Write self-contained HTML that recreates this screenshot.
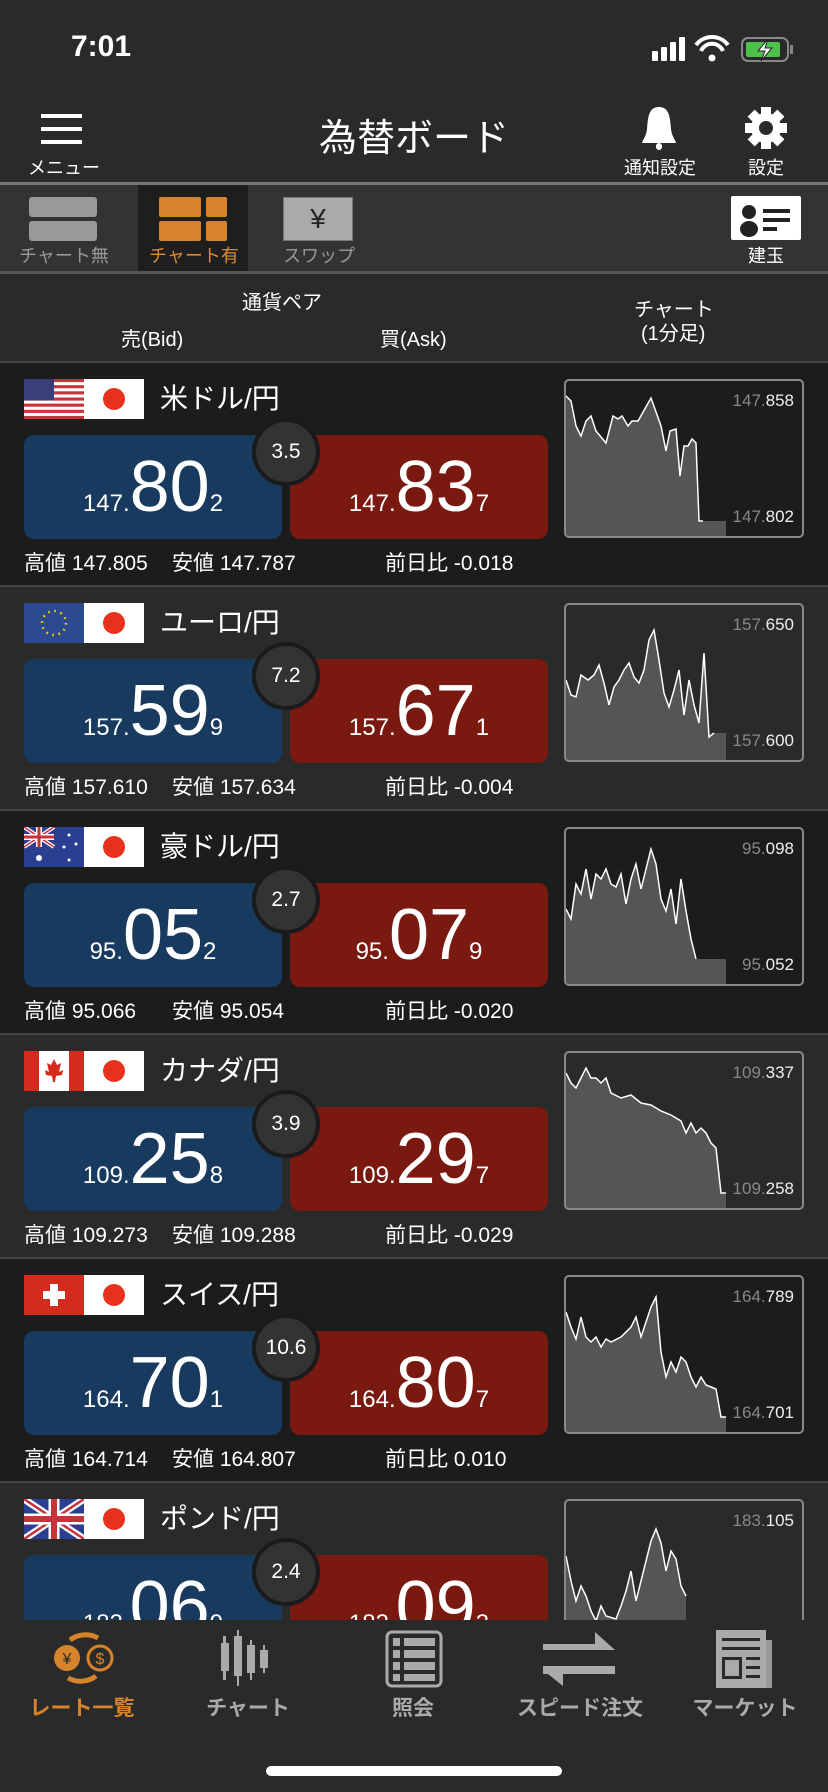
<!DOCTYPE html>
<html><head><meta charset="utf-8"><style>
*{margin:0;padding:0;box-sizing:border-box}
body{width:828px;height:1792px;background:#2a2a2a;font-family:"Liberation Sans","Noto Sans CJK JP",sans-serif;color:#fff;position:relative;overflow:hidden}
.a{position:absolute}
.row{position:absolute;left:0;width:828px;height:224px;border-top:2px solid #444}
.flag{position:absolute;top:16px;width:60px;height:40px;overflow:hidden}
.jp{left:84px;background:#fff}
.jp:after{content:"";position:absolute;left:19px;top:9px;width:22px;height:22px;border-radius:50%;background:#e8301e}
.title{position:absolute;left:160px;top:18px;font-size:28px;line-height:36px}
.box{position:absolute;top:72px;width:258px;height:104px;border-radius:10px;text-align:center;white-space:nowrap}
.bid{left:24px;background:#173a5e}
.ask{left:290px;background:#791910}
.num{position:absolute;left:0;right:0;top:16px;line-height:72px}
.s{font-size:24px}.b{font-size:72px}
.circ{position:absolute;left:252px;top:55px;width:68px;height:68px;border-radius:50%;background:#333;border:4px solid #1a1a1a;font-size:21px;line-height:60px;text-align:center}
.chart{position:absolute;left:564px;top:16px;width:240px;height:159px;border:2px solid #888;border-radius:5px;overflow:hidden}
.chart svg{position:absolute;left:0;top:0}
.lt,.lb{position:absolute;right:8px;font-size:17px;color:#eee}
.lt{top:10px}.lb{top:126px}
.g{color:#888}
.st{position:absolute;top:188px;font-size:21px;line-height:26px}
.nav{position:absolute;top:1620px;left:0;width:828px;height:172px;background:#2a2a2a}
.nl{position:absolute;top:72px;font-size:21px;font-weight:bold;color:#aaa;transform:translateX(-50%);white-space:nowrap}
</style></head><body>
<!-- status bar -->
<div class="a" style="left:71px;top:30px;font-size:30px;font-weight:bold">7:01</div>
<svg class="a" style="left:650px;top:35px" width="150" height="30">
<rect x="2" y="16" width="6" height="10" rx="1" fill="#fff"/><rect x="11" y="12" width="6" height="14" rx="1" fill="#fff"/><rect x="20" y="7" width="6" height="19" rx="1" fill="#fff"/><rect x="29" y="2" width="6" height="24" rx="1" fill="#fff"/>
<path d="M46 10 A20 20 0 0 1 78 10" stroke="#fff" stroke-width="4" fill="none"/><path d="M51 16 A12 12 0 0 1 73 16" stroke="#fff" stroke-width="4" fill="none"/><circle cx="62" cy="23" r="3.5" fill="#fff"/>
<rect x="92" y="3" width="46" height="23" rx="6" fill="none" stroke="#888" stroke-width="2"/><rect x="96" y="7" width="34" height="15" rx="2" fill="#4cc24a"/><rect x="140" y="10" width="3" height="9" fill="#888"/>
<path d="M118 4 L108 16 H115 L111 26 L122 13 H115 Z" fill="#fff" stroke="#222" stroke-width="1"/></svg>
<!-- header -->
<div class="a" style="left:41px;top:114px;width:41px;height:4px;background:#fff"></div>
<div class="a" style="left:41px;top:127px;width:41px;height:4px;background:#fff"></div>
<div class="a" style="left:41px;top:140px;width:41px;height:4px;background:#fff"></div>
<div class="a" style="left:28px;top:154px;font-size:18px">メニュー</div>
<div class="a" style="left:0;width:828px;top:116px;text-align:center;font-size:38px;line-height:46px">為替ボード</div>
<svg class="a" style="left:640px;top:105px" width="38" height="48"><path d="M19 2 C8 2 8 14 7 24 C6 32 3 34 2 38 H36 C35 34 32 32 31 24 C30 14 30 2 19 2Z" fill="#fff"/><rect x="16" y="38" width="6" height="7" rx="3" fill="#fff"/></svg>
<div class="a" style="left:624px;top:154px;font-size:18px">通知設定</div>
<svg class="a" style="left:744px;top:106px" width="44" height="44" viewBox="0 0 44 44"><g fill="#fff"><circle cx="22" cy="22" r="15"/><g id="t"><rect x="17" y="1" width="10" height="10"/><rect x="17" y="33" width="10" height="10"/></g><use href="#t" transform="rotate(45 22 22)"/><use href="#t" transform="rotate(90 22 22)"/><use href="#t" transform="rotate(135 22 22)"/></g><circle cx="22" cy="22" r="7" fill="#2a2a2a"/></svg>
<div class="a" style="left:748px;top:154px;font-size:18px">設定</div>
<!-- tab bar -->
<div class="a" style="left:0;top:182px;width:828px;height:3px;background:#777"></div>
<div class="a" style="left:0;top:185px;width:828px;height:86px;background:#333"></div>
<div class="a" style="left:138px;top:185px;width:110px;height:86px;background:#1e1e1e"></div>
<div class="a" style="left:29px;top:197px;width:68px;height:20px;background:#999;border-radius:3px"></div>
<div class="a" style="left:29px;top:221px;width:68px;height:20px;background:#999;border-radius:3px"></div>
<div class="a" style="left:19px;top:242px;font-size:18px;color:#999">チャート無</div>
<div class="a" style="left:159px;top:197px;width:42px;height:20px;background:#d7832c;border-radius:2px"></div>
<div class="a" style="left:206px;top:197px;width:21px;height:20px;background:#d7832c;border-radius:2px"></div>
<div class="a" style="left:159px;top:221px;width:42px;height:20px;background:#d7832c;border-radius:2px"></div>
<div class="a" style="left:206px;top:221px;width:21px;height:20px;background:#d7832c;border-radius:2px"></div>
<div class="a" style="left:149px;top:242px;font-size:18px;color:#e0892e">チャート有</div>
<div class="a" style="left:283px;top:197px;width:70px;height:44px;background:#aaa;border:1px solid #777;text-align:center;font-size:28px;line-height:42px;color:#222">¥</div>
<div class="a" style="left:283px;top:242px;font-size:18px;color:#999">スワップ</div>
<svg class="a" style="left:731px;top:196px" width="70" height="44"><rect width="70" height="44" rx="2" fill="#fff"/><circle cx="18" cy="16" r="7" fill="#222"/><ellipse cx="18" cy="33" rx="9" ry="8" fill="#222"/><rect x="32" y="13" width="27" height="4" fill="#222"/><rect x="32" y="22" width="27" height="4" fill="#222"/><rect x="32" y="31" width="14" height="4" fill="#222"/></svg>
<div class="a" style="left:748px;top:242px;font-size:18px">建玉</div>
<div class="a" style="left:0;top:271px;width:828px;height:3px;background:#555"></div>
<!-- column headers -->
<div class="a" style="left:242px;top:286px;font-size:20px">通貨ペア</div>
<div class="a" style="left:121px;top:323px;font-size:20px">売(Bid)</div>
<div class="a" style="left:380px;top:323px;font-size:20px">買(Ask)</div>
<div class="a" style="left:634px;top:293px;font-size:20px">チャート</div>
<div class="a" style="left:641px;top:317px;font-size:20px">(1分足)</div>

<!-- row 1 USD -->
<div class="row" style="top:361px;background:#1c1c1c">
<svg class="flag" style="left:24px" viewBox="0 0 60 40" preserveAspectRatio="none"><rect width="60" height="40" fill="#fff"/><g fill="#c8323a"><rect y="0" width="60" height="3.1"/><rect y="6.2" width="60" height="3.1"/><rect y="12.3" width="60" height="3.1"/><rect y="18.5" width="60" height="3.1"/><rect y="24.6" width="60" height="3.1"/><rect y="30.8" width="60" height="3.1"/><rect y="36.9" width="60" height="3.1"/></g><rect width="30" height="21.5" fill="#3a3f7a"/></svg>
<div class="flag jp"></div>
<div class="title">米ドル/円</div>
<div class="box bid"><div class="num"><span class="s">147.</span><span class="b">80</span><span class="s">2</span></div></div>
<div class="box ask"><div class="num"><span class="s">147.</span><span class="b">83</span><span class="s">7</span></div></div>
<div class="circ">3.5</div>
<div class="chart"><svg width="240" height="159"><polygon fill="#555" points="0,159 0,15 5,20 10,45 15,55 20,40 25,35 30,50 40,62 47,35 52,38 56,35 62,45 66,40 72,40 85,17 95,45 100,70 104,50 110,48 114,95 118,65 122,65 126,58 130,62 133,140 160,140 160,159"/><polyline fill="none" stroke="#fff" stroke-width="1.5" points="0,15 5,20 10,45 15,55 20,40 25,35 30,50 40,62 47,35 52,38 56,35 62,45 66,40 72,40 85,17 95,45 100,70 104,50 110,48 114,95 118,65 122,65 126,58 130,62 133,140 137,140"/></svg><div class="lt"><span class="g">147.</span>858</div><div class="lb"><span class="g">147.</span>802</div></div>
<div class="st" style="left:24px">高値 147.805</div><div class="st" style="left:172px">安値 147.787</div><div class="st" style="left:385px">前日比 -0.018</div>
</div>

<!-- row 2 EUR -->
<div class="row" style="top:585px;background:#2a2a2a">
<svg class="flag" style="left:24px" viewBox="0 0 60 40"><rect width="60" height="40" fill="#2b4a92"/><circle cx="30" cy="20" r="12" fill="none" stroke="#f5d000" stroke-width="2.6" stroke-dasharray="1.6 4.68"/></svg>
<div class="flag jp"></div>
<div class="title">ユーロ/円</div>
<div class="box bid"><div class="num"><span class="s">157.</span><span class="b">59</span><span class="s">9</span></div></div>
<div class="box ask"><div class="num"><span class="s">157.</span><span class="b">67</span><span class="s">1</span></div></div>
<div class="circ">7.2</div>
<div class="chart"><svg width="240" height="159"><polygon fill="#555" points="0,159 0,75 5,90 10,92 15,70 22,75 28,70 33,60 38,78 43,100 48,82 53,75 58,65 63,58 68,72 73,78 78,65 83,35 88,25 93,55 98,88 103,102 108,85 113,65 118,110 123,75 128,100 133,118 138,48 143,132 148,128 160,128 160,159"/><polyline fill="none" stroke="#fff" stroke-width="1.5" points="0,75 5,90 10,92 15,70 22,75 28,70 33,60 38,78 43,100 48,82 53,75 58,65 63,58 68,72 73,78 78,65 83,35 88,25 93,55 98,88 103,102 108,85 113,65 118,110 123,75 128,100 133,118 138,48 143,132 148,128"/></svg><div class="lt"><span class="g">157.</span>650</div><div class="lb"><span class="g">157.</span>600</div></div>
<div class="st" style="left:24px">高値 157.610</div><div class="st" style="left:172px">安値 157.634</div><div class="st" style="left:385px">前日比 -0.004</div>
</div>

<!-- row 3 AUD -->
<div class="row" style="top:809px;background:#1c1c1c">
<svg class="flag" style="left:24px" viewBox="0 0 60 40"><rect width="60" height="40" fill="#2a3f8f"/><rect width="30" height="20" fill="#2a3f8f"/><path d="M0 0L30 20M30 0L0 20" stroke="#fff" stroke-width="4"/><path d="M0 0L30 20M30 0L0 20" stroke="#c8323a" stroke-width="1.5"/><path d="M15 0V20M0 10H30" stroke="#fff" stroke-width="6"/><path d="M15 0V20M0 10H30" stroke="#c8323a" stroke-width="3"/><g fill="#fff"><circle cx="15" cy="31" r="3"/><circle cx="45" cy="8" r="1.5"/><circle cx="52" cy="17" r="1.5"/><circle cx="40" cy="20" r="1.5"/><circle cx="45" cy="33" r="1.5"/></g></svg>
<div class="flag jp"></div>
<div class="title">豪ドル/円</div>
<div class="box bid"><div class="num"><span class="s">95.</span><span class="b">05</span><span class="s">2</span></div></div>
<div class="box ask"><div class="num"><span class="s">95.</span><span class="b">07</span><span class="s">9</span></div></div>
<div class="circ">2.7</div>
<div class="chart"><svg width="240" height="159"><polygon fill="#555" points="0,159 0,80 5,90 10,55 15,65 20,40 25,70 30,45 35,50 40,40 45,55 50,58 55,45 60,75 65,50 70,35 75,60 80,40 85,20 90,35 95,70 100,82 105,60 110,95 115,50 120,82 125,110 130,130 160,130 160,159"/><polyline fill="none" stroke="#fff" stroke-width="1.5" points="0,80 5,90 10,55 15,65 20,40 25,70 30,45 35,50 40,40 45,55 50,58 55,45 60,75 65,50 70,35 75,60 80,40 85,20 90,35 95,70 100,82 105,60 110,95 115,50 120,82 125,110 130,130"/></svg><div class="lt"><span class="g">95.</span>098</div><div class="lb"><span class="g">95.</span>052</div></div>
<div class="st" style="left:24px">高値 95.066</div><div class="st" style="left:172px">安値 95.054</div><div class="st" style="left:385px">前日比 -0.020</div>
</div>

<!-- row 4 CAD -->
<div class="row" style="top:1033px;background:#2a2a2a">
<svg class="flag" style="left:24px" viewBox="0 0 60 40"><rect width="60" height="40" fill="#fff"/><rect width="15" height="40" fill="#d52b1e"/><rect x="45" width="15" height="40" fill="#d52b1e"/><path d="M30 8 L33 14 L37 12 L35 21 L39 19 L38 24 L32 25 L31 31 H29 L28 25 L22 24 L21 19 L25 21 L23 12 L27 14Z" fill="#d52b1e"/></svg>
<div class="flag jp"></div>
<div class="title">カナダ/円</div>
<div class="box bid"><div class="num"><span class="s">109.</span><span class="b">25</span><span class="s">8</span></div></div>
<div class="box ask"><div class="num"><span class="s">109.</span><span class="b">29</span><span class="s">7</span></div></div>
<div class="circ">3.9</div>
<div class="chart"><svg width="240" height="159"><polygon fill="#555" points="0,159 0,20 5,30 10,35 15,25 20,15 25,25 30,25 35,30 40,25 45,40 55,45 65,42 75,50 85,52 95,58 105,62 115,68 120,80 125,70 130,80 135,75 140,80 145,90 150,95 155,140 160,140 160,159"/><polyline fill="none" stroke="#fff" stroke-width="1.5" points="0,20 5,30 10,35 15,25 20,15 25,25 30,25 35,30 40,25 45,40 55,45 65,42 75,50 85,52 95,58 105,62 115,68 120,80 125,70 130,80 135,75 140,80 145,90 150,95 155,140 160,140"/></svg><div class="lt"><span class="g">109.</span>337</div><div class="lb"><span class="g">109.</span>258</div></div>
<div class="st" style="left:24px">高値 109.273</div><div class="st" style="left:172px">安値 109.288</div><div class="st" style="left:385px">前日比 -0.029</div>
</div>

<!-- row 5 CHF -->
<div class="row" style="top:1257px;background:#1c1c1c">
<svg class="flag" style="left:24px" viewBox="0 0 60 40"><rect width="60" height="40" fill="#d52b1e"/><rect x="26" y="9" width="8" height="22" fill="#fff"/><rect x="19" y="16" width="22" height="8" fill="#fff"/></svg>
<div class="flag jp"></div>
<div class="title">スイス/円</div>
<div class="box bid"><div class="num"><span class="s">164.</span><span class="b">70</span><span class="s">1</span></div></div>
<div class="box ask"><div class="num"><span class="s">164.</span><span class="b">80</span><span class="s">7</span></div></div>
<div class="circ">10.6</div>
<div class="chart"><svg width="240" height="159"><polygon fill="#555" points="0,159 0,35 5,50 10,62 15,40 20,60 25,65 30,60 35,70 40,62 45,65 55,60 65,50 70,40 75,60 80,45 85,30 90,20 95,75 100,100 105,85 110,95 115,80 120,85 125,100 130,110 135,100 140,108 145,110 150,112 155,140 160,140 160,159"/><polyline fill="none" stroke="#fff" stroke-width="1.5" points="0,35 5,50 10,62 15,40 20,60 25,65 30,60 35,70 40,62 45,65 55,60 65,50 70,40 75,60 80,45 85,30 90,20 95,75 100,100 105,85 110,95 115,80 120,85 125,100 130,110 135,100 140,108 145,110 150,112 155,140 160,140"/></svg><div class="lt"><span class="g">164.</span>789</div><div class="lb"><span class="g">164.</span>701</div></div>
<div class="st" style="left:24px">高値 164.714</div><div class="st" style="left:172px">安値 164.807</div><div class="st" style="left:385px">前日比 0.010</div>
</div>

<!-- row 6 GBP -->
<div class="row" style="top:1481px;background:#2a2a2a">
<svg class="flag" style="left:24px" viewBox="0 0 60 40"><rect width="60" height="40" fill="#2a3f8f"/><path d="M0 0L60 40M60 0L0 40" stroke="#fff" stroke-width="7"/><path d="M0 0L60 40M60 0L0 40" stroke="#c8323a" stroke-width="2.5"/><path d="M30 0V40M0 20H60" stroke="#fff" stroke-width="11"/><path d="M30 0V40M0 20H60" stroke="#c8323a" stroke-width="6"/></svg>
<div class="flag jp"></div>
<div class="title">ポンド/円</div>
<div class="box bid"><div class="num"><span class="s">183.</span><span class="b">06</span><span class="s">9</span></div></div>
<div class="box ask"><div class="num"><span class="s">183.</span><span class="b">09</span><span class="s">3</span></div></div>
<div class="circ">2.4</div>
<div class="chart"><svg width="240" height="159"><polygon fill="#555" points="0,159 0,55 5,80 10,100 15,85 20,95 25,110 30,120 35,105 40,115 50,118 55,105 60,90 65,70 70,100 75,80 80,60 85,40 90,28 95,42 100,70 105,50 110,58 115,85 120,95 120,159"/><polyline fill="none" stroke="#fff" stroke-width="1.5" points="0,55 5,80 10,100 15,85 20,95 25,110 30,120 35,105 40,115 50,118 55,105 60,90 65,70 70,100 75,80 80,60 85,40 90,28 95,42 100,70 105,50 110,58 115,85 120,95"/></svg><div class="lt"><span class="g">183.</span>105</div></div>
</div>

<!-- bottom nav -->
<div class="nav">
<svg class="a" style="left:50px;top:10px" width="66" height="56"><path d="M20 10 A24 22 0 0 1 48 8" stroke="#d7832c" stroke-width="5" fill="none"/><path d="M46 46 A24 22 0 0 1 18 48" stroke="#d7832c" stroke-width="5" fill="none"/><circle cx="17" cy="28" r="13" fill="#d7832c"/><circle cx="50" cy="28" r="12" fill="none" stroke="#d7832c" stroke-width="3"/><text x="17" y="34" font-size="16" text-anchor="middle" fill="#2a2a2a" font-family="Liberation Sans">¥</text><text x="50" y="34" font-size="16" text-anchor="middle" fill="#d7832c" font-family="Liberation Sans">$</text></svg>
<div class="nl" style="left:82px;color:#d7832c">レート一覧</div>
<svg class="a" style="left:218px;top:10px" width="60" height="58" fill="#aaa"><rect x="3" y="13" width="8" height="28"/><rect x="5" y="6" width="3" height="44"/><rect x="16" y="6" width="8" height="40"/><rect x="19" y="0" width="2" height="56"/><rect x="29" y="15" width="8" height="28"/><rect x="32" y="10" width="2" height="40"/><rect x="42" y="20" width="8" height="18"/><rect x="45" y="15" width="2" height="28"/></svg>
<div class="nl" style="left:248px">チャート</div>
<svg class="a" style="left:385px;top:10px" width="58" height="58"><rect x="2" y="2" width="54" height="54" rx="5" fill="none" stroke="#aaa" stroke-width="3"/><g fill="#aaa"><rect x="8" y="8" width="7" height="8"/><rect x="19" y="8" width="31" height="8"/><rect x="8" y="20" width="7" height="8"/><rect x="19" y="20" width="31" height="8"/><rect x="8" y="32" width="7" height="8"/><rect x="19" y="32" width="31" height="8"/><rect x="8" y="44" width="7" height="7"/><rect x="19" y="44" width="31" height="7"/></g></svg>
<div class="nl" style="left:413px">照会</div>
<svg class="a" style="left:543px;top:10px" width="74" height="58" fill="#aaa"><path d="M0 14 H52 V2 L72 20 H0Z"/><path d="M72 36 H20 V56 L0 40 V36Z M0 36 H72 V44 H0Z"/></svg>
<div class="nl" style="left:580px">スピード注文</div>
<svg class="a" style="left:716px;top:10px" width="58" height="58"><rect x="0" y="0" width="50" height="58" fill="#aaa"/><rect x="50" y="10" width="6" height="48" fill="#999"/><g fill="#2a2a2a"><rect x="6" y="8" width="38" height="3"/><rect x="6" y="17" width="38" height="3"/><rect x="6" y="27" width="20" height="22"/><rect x="30" y="27" width="14" height="3"/><rect x="30" y="36" width="14" height="3"/><rect x="30" y="45" width="14" height="3"/></g><rect x="9" y="30" width="14" height="16" fill="#aaa"/></svg>
<div class="nl" style="left:745px">マーケット</div>
<div class="a" style="left:266px;top:146px;width:296px;height:10px;border-radius:5px;background:#fff"></div>
</div>
</body></html>
